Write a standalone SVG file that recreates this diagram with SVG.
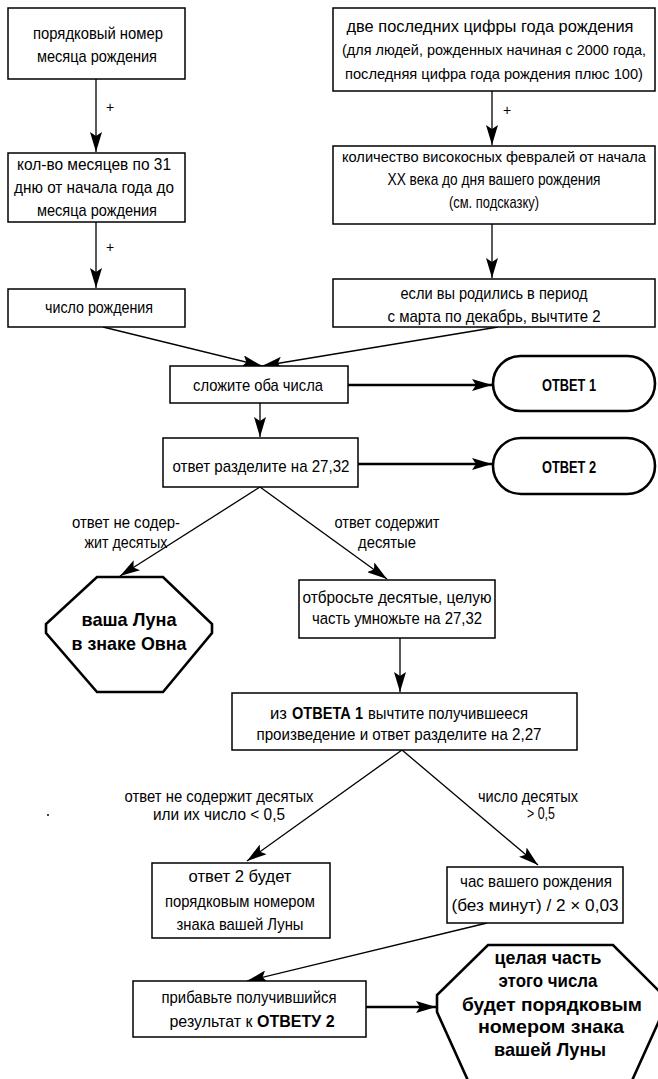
<svg xmlns="http://www.w3.org/2000/svg" width="658" height="1079" viewBox="0 0 658 1079">
<style>
.box{fill:#fff;stroke:#000;stroke-width:1.5}
.oct{fill:#fff;stroke:#000;stroke-width:2.6}
.pill{fill:#fff;stroke:#000;stroke-width:2.6}
.ln{fill:none;stroke:#000;stroke-width:1.3}
.thick{fill:none;stroke:#000;stroke-width:2.6}
text{font-family:"Liberation Sans",Arial,sans-serif;font-size:17px;text-anchor:middle;fill:#000}
.b{font-weight:bold}
.st{text-anchor:start}
.sm{font-size:15px}
.bt{font-weight:bold;font-size:19px}
.plus{font-size:14px}
</style>
<defs>
<marker id="ah" markerUnits="userSpaceOnUse" viewBox="0 0 20 12" refX="20" refY="6" markerWidth="20" markerHeight="12" orient="auto">
<path d="M0,0 L20,6 L0,12 L4,6 z" fill="#000"/>
</marker>
</defs>
<rect width="658" height="1079" fill="#fff"/>

<g id="connectors">
<line class="ln" x1="96" y1="79" x2="96" y2="152" marker-end="url(#ah)"/>
<line class="ln" x1="96" y1="222" x2="96" y2="288" marker-end="url(#ah)"/>
<line class="ln" x1="492" y1="91" x2="492" y2="145" marker-end="url(#ah)"/>
<line class="ln" x1="492" y1="224" x2="492" y2="278" marker-end="url(#ah)"/>
<line class="ln" x1="103" y1="327" x2="262" y2="366" marker-end="url(#ah)"/>
<line class="ln" x1="498" y1="327" x2="262" y2="366" marker-end="url(#ah)"/>
<line class="ln" x1="260" y1="403" x2="260" y2="437" marker-end="url(#ah)"/>
<line class="thick" x1="348" y1="385" x2="492" y2="385" marker-end="url(#ah)"/>
<line class="thick" x1="358" y1="464" x2="492" y2="464" marker-end="url(#ah)"/>
<line class="ln" x1="260" y1="487" x2="120" y2="576" marker-end="url(#ah)"/>
<line class="ln" x1="260" y1="487" x2="387" y2="579" marker-end="url(#ah)"/>
<line class="ln" x1="400" y1="638" x2="400" y2="692" marker-end="url(#ah)"/>
<line class="ln" x1="402" y1="750" x2="247" y2="861" marker-end="url(#ah)"/>
<line class="ln" x1="402" y1="750" x2="538" y2="865" marker-end="url(#ah)"/>
<line class="ln" x1="487" y1="923" x2="247" y2="981" marker-end="url(#ah)"/>
<line class="thick" x1="366" y1="1007" x2="436" y2="1007" marker-end="url(#ah)"/>
<text class="plus" x="110" y="112">+</text>
<text class="plus" x="110" y="252">+</text>
<text class="plus" x="507" y="115">+</text>
<text x="126" y="528" textLength="108" lengthAdjust="spacingAndGlyphs">ответ не содер-</text>
<text x="126" y="548" textLength="83" lengthAdjust="spacingAndGlyphs">жит десятых</text>
<text x="387" y="528" textLength="105" lengthAdjust="spacingAndGlyphs">ответ содержит</text>
<text x="387" y="548" textLength="58" lengthAdjust="spacingAndGlyphs">десятые</text>
<text x="219" y="802" textLength="189" lengthAdjust="spacingAndGlyphs">ответ не содержит десятых</text>
<text x="219" y="820" textLength="132" lengthAdjust="spacingAndGlyphs">или их число &lt; 0,5</text>
<text x="528" y="802" textLength="100" lengthAdjust="spacingAndGlyphs">число десятых</text>
<text x="541" y="819" textLength="28" lengthAdjust="spacingAndGlyphs">&gt; 0,5</text>
</g>

<g id="n1">
<rect class="box" x="8" y="8" width="177" height="71"/>
<text x="98" y="39" textLength="130" lengthAdjust="spacingAndGlyphs">порядковый номер</text>
<text x="97" y="62" textLength="120" lengthAdjust="spacingAndGlyphs">месяца рождения</text>
</g>
<g id="n2">
<rect class="box" x="8" y="153" width="177" height="69"/>
<text x="94" y="170" textLength="154" lengthAdjust="spacingAndGlyphs">кол-во месяцев по 31</text>
<text x="94" y="193" textLength="160" lengthAdjust="spacingAndGlyphs">дню от начала года до</text>
<text x="97" y="216" textLength="120" lengthAdjust="spacingAndGlyphs">месяца рождения</text>
</g>
<g id="n3">
<rect class="box" x="8" y="289" width="177" height="38"/>
<text x="99" y="313" textLength="108" lengthAdjust="spacingAndGlyphs">число рождения</text>
</g>
<g id="n4">
<rect class="box" x="333" y="8" width="322" height="83"/>
<text x="490" y="32" textLength="287" lengthAdjust="spacingAndGlyphs">две последних цифры года рождения</text>
<text class="sm" x="494" y="55" textLength="304" lengthAdjust="spacingAndGlyphs">(для людей, рожденных начиная с 2000 года,</text>
<text class="sm" x="494" y="79" textLength="298" lengthAdjust="spacingAndGlyphs">последняя цифра года рождения плюс 100)</text>
</g>
<g id="n5">
<rect class="box" x="333" y="146" width="322" height="78"/>
<text class="sm" x="494" y="162" textLength="304" lengthAdjust="spacingAndGlyphs">количество високосных февралей от начала</text>
<text x="494" y="185" textLength="213" lengthAdjust="spacingAndGlyphs">XX века до дня вашего рождения</text>
<text x="494" y="208" textLength="90" lengthAdjust="spacingAndGlyphs">(см. подсказку)</text>
</g>
<g id="n6">
<rect class="box" x="333" y="279" width="322" height="48"/>
<text x="494" y="299" textLength="187" lengthAdjust="spacingAndGlyphs">если вы родились в период</text>
<text x="494" y="322" textLength="213" lengthAdjust="spacingAndGlyphs">с марта по декабрь, вычтите 2</text>
</g>
<g id="n7">
<rect class="box" x="170" y="366" width="178" height="37"/>
<text x="258" y="391" textLength="130" lengthAdjust="spacingAndGlyphs">сложите оба числа</text>
</g>
<g id="answer1">
<rect class="pill" x="493" y="356" width="162" height="55" rx="27.5"/>
<text class="b" x="569" y="391" textLength="54" lengthAdjust="spacingAndGlyphs">ОТВЕТ 1</text>
</g>
<g id="n8">
<rect class="box" x="163" y="438" width="195" height="49"/>
<text x="261" y="472" textLength="177" lengthAdjust="spacingAndGlyphs">ответ разделите на 27,32</text>
</g>
<g id="answer2">
<rect class="pill" x="493" y="438" width="162" height="56" rx="28"/>
<text class="b" x="569" y="473" textLength="54" lengthAdjust="spacingAndGlyphs">ОТВЕТ 2</text>
</g>
<g id="aries">
<polygon class="oct" points="97,577 163,577 212,624 212,633 163,692 97,692 46,633 46,624"/>
<text class="bt" x="129" y="626" textLength="95" lengthAdjust="spacingAndGlyphs">ваша Луна</text>
<text class="bt" x="129" y="650" textLength="115" lengthAdjust="spacingAndGlyphs">в знаке Овна</text>
</g>
<g id="n9">
<rect class="box" x="299" y="580" width="196" height="58"/>
<text x="397" y="603" textLength="189" lengthAdjust="spacingAndGlyphs">отбросьте десятые, целую</text>
<text x="397" y="624" textLength="170" lengthAdjust="spacingAndGlyphs">часть умножьте на 27,32</text>
</g>
<g id="n10">
<rect class="box" x="232" y="693" width="345" height="57"/>
<text class="st" x="270" y="719" textLength="17" lengthAdjust="spacingAndGlyphs">из</text>
<text class="st b" x="292" y="719" textLength="71" lengthAdjust="spacingAndGlyphs">ОТВЕТА 1</text>
<text class="st" x="368" y="719" textLength="160" lengthAdjust="spacingAndGlyphs">вычтите получившееся</text>
<text x="399" y="740" textLength="285" lengthAdjust="spacingAndGlyphs">произведение и ответ разделите на 2,27</text>
</g>
<g id="n11">
<rect class="box" x="152" y="863" width="178" height="75"/>
<text x="240" y="882" textLength="103" lengthAdjust="spacingAndGlyphs">ответ 2 будет</text>
<text x="240" y="907" textLength="150" lengthAdjust="spacingAndGlyphs">порядковым номером</text>
<text x="240" y="930" textLength="127" lengthAdjust="spacingAndGlyphs">знака вашей Луны</text>
</g>
<g id="n12">
<rect class="box" x="447" y="867" width="176" height="56"/>
<text x="536" y="887" textLength="152" lengthAdjust="spacingAndGlyphs">час вашего рождения</text>
<text x="535" y="911" textLength="167" lengthAdjust="spacingAndGlyphs">(без минут) / 2 × 0,03</text>
</g>
<g id="n13">
<rect class="box" x="133" y="981" width="233" height="56"/>
<text x="249" y="1003" textLength="175" lengthAdjust="spacingAndGlyphs">прибавьте получившийся</text>
<text x="252" y="1027" style="font-size:16px">результат к <tspan class="b">ОТВЕТУ 2</tspan></text>
</g>
<g id="result">
<polygon class="oct" points="488,945 613,945 663,995 663,1012 630,1085 470,1085 437,1012 437,995"/>
<text class="bt" x="548" y="964" textLength="107" lengthAdjust="spacingAndGlyphs">целая часть</text>
<text class="bt" x="548" y="987" textLength="99" lengthAdjust="spacingAndGlyphs">этого числа</text>
<text class="bt" x="552" y="1011" textLength="180" lengthAdjust="spacingAndGlyphs">будет порядковым</text>
<text class="bt" x="551" y="1033" textLength="146" lengthAdjust="spacingAndGlyphs">номером знака</text>
<text class="bt" x="550" y="1056" textLength="112" lengthAdjust="spacingAndGlyphs">вашей Луны</text>
</g>
<circle cx="48" cy="815" r="1" fill="#000"/>
</svg>
